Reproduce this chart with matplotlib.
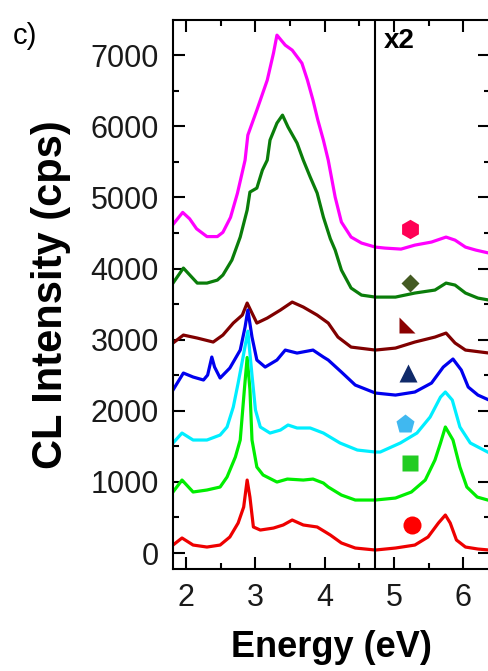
import numpy as np
import matplotlib
matplotlib.use("Agg")
import matplotlib.pyplot as plt

plt.rcParams['font.family'] = ['Liberation Sans', 'DejaVu Sans']

# energy (eV) / intensity (cps) as plotted; part right of 4.73 eV shown x2
mag_e = [1.81, 1.95, 2.05, 2.15, 2.3, 2.45, 2.53, 2.64, 2.74, 2.85, 2.89, 3.02, 3.17, 3.26, 3.31,
         3.43, 3.53, 3.67, 3.75, 3.83, 3.90, 3.98, 4.05, 4.15, 4.24, 4.38, 4.53, 4.73,
         4.87, 5.10, 5.30, 5.54, 5.75, 5.88, 6.03, 6.18, 6.37]
mag_i = [4620, 4790, 4700, 4560, 4450, 4450, 4510, 4720, 5060, 5525, 5877, 6229, 6650, 7030, 7283,
         7142, 7072, 6889, 6650, 6369, 6088, 5807, 5525, 5005, 4654, 4443, 4359, 4302,
         4288, 4274, 4330, 4373, 4443, 4400, 4302, 4260, 4218]

dg_e = [1.81, 1.96, 2.16, 2.30, 2.45, 2.53, 2.66, 2.78, 2.88, 2.92, 3.02, 3.10, 3.17, 3.21,
        3.31, 3.39, 3.47, 3.60, 3.69, 3.79, 3.89, 3.98, 4.08, 4.15, 4.24, 4.38, 4.53, 4.73,
        5.02, 5.30, 5.59, 5.75, 5.88, 6.03, 6.21, 6.37]
dg_i = [3796, 4007, 3796, 3796, 3838, 3909, 4120, 4443, 4823, 5076, 5132, 5385, 5525, 5807,
        6046, 6158, 5990, 5765, 5525, 5287, 5062, 4724, 4420, 4260, 3979, 3726, 3627, 3599,
        3599, 3656, 3698, 3796, 3768, 3656, 3585, 3557]

mr_e = [1.81, 1.96, 2.16, 2.39, 2.53, 2.68, 2.81, 2.88, 2.95, 3.02, 3.17, 3.36, 3.53, 3.69,
        3.89, 4.05, 4.19, 4.38, 4.73, 5.02, 5.30, 5.59, 5.75, 5.88, 6.03, 6.37]
mr_i = [2953, 3065, 3023, 2967, 3065, 3234, 3346, 3515, 3374, 3234, 3304, 3417, 3529, 3459,
        3346, 3234, 3037, 2896, 2854, 2882, 2967, 3037, 3093, 2953, 2854, 2812]

bl_e = [1.81, 1.96, 2.10, 2.25, 2.31, 2.37, 2.41, 2.49, 2.63, 2.78, 2.85, 2.89, 2.95, 3.02,
        3.14, 3.31, 3.43, 3.60, 3.83, 3.98, 4.05, 4.24, 4.44, 4.73, 5.02, 5.30, 5.54, 5.71,
        5.85, 5.97, 6.07, 6.21, 6.37]
bl_i = [2292, 2531, 2475, 2433, 2503, 2756, 2615, 2461, 2601, 2854, 3178, 3417, 3037, 2714,
        2615, 2714, 2854, 2812, 2854, 2756, 2714, 2545, 2362, 2250, 2221, 2264, 2390, 2615,
        2728, 2573, 2334, 2221, 2151]

cy_e = [1.81, 1.94, 2.10, 2.30, 2.49, 2.59, 2.68, 2.75, 2.82, 2.89, 2.95, 3.00, 3.07,
        3.21, 3.36, 3.47, 3.60, 3.79, 3.98, 4.22, 4.47, 4.73, 4.80, 5.09, 5.33, 5.52, 5.67,
        5.74, 5.84, 5.95, 6.10, 6.37]
cy_i = [1547, 1687, 1589, 1589, 1659, 1772, 2053, 2390, 2750, 3120, 2500, 2011, 1772,
        1687, 1729, 1800, 1758, 1758, 1687, 1547, 1448, 1420, 1420, 1547, 1687, 1912, 2193,
        2264, 2151, 1772, 1547, 1410]

gr_e = [1.81, 1.94, 2.10, 2.30, 2.49, 2.59, 2.71, 2.78, 2.84, 2.88, 2.92, 2.95, 3.02, 3.11,
        3.31, 3.46, 3.69, 3.83, 3.98, 4.05, 4.24, 4.44, 4.73, 5.02, 5.25, 5.45, 5.59, 5.67,
        5.74, 5.85, 5.95, 6.05, 6.20, 6.37]
gr_i = [858, 1026, 858, 886, 928, 1069, 1350, 1589, 2300, 2750, 2300, 1589, 1209, 1097,
        998, 1040, 1026, 1040, 984, 928, 815, 745, 745, 773, 858, 1026, 1308, 1547,
        1772, 1589, 1209, 928, 787, 740]

rd_e = [1.81, 1.94, 2.10, 2.30, 2.49, 2.63, 2.75, 2.83, 2.88, 2.92, 2.97, 3.07, 3.26, 3.40,
        3.53, 3.69, 3.89, 4.01, 4.08, 4.24, 4.44, 4.73, 5.02, 5.30, 5.49, 5.64, 5.74, 5.81,
        5.90, 6.03, 6.21, 6.37]
rd_i = [112, 211, 112, 84, 112, 225, 422, 647, 1026, 787, 366, 323, 351, 394,
        464, 394, 366, 295, 253, 141, 70, 42, 70, 112, 225, 422, 534, 422,
        183, 84, 56, 42]

curves = [(mag_e, mag_i, '#ff00ff'), (dg_e, dg_i, '#0a7d0a'), (mr_e, mr_i, '#800000'),
          (bl_e, bl_i, '#0000ee'), (gr_e, gr_i, '#00ee00'), (cy_e, cy_i, '#00eeff'),
          (rd_e, rd_i, '#ee0000')]

# symbol labels next to each curve
sym_e = [5.23, 5.23, 5.18, 5.20, 5.16, 5.23, 5.26]
sym_i = [4555, 3796, 3206, 2531, 1814, 1265, 394]
rtri = [(-1, 1), (-1, -1), (1, -1)]
sym_m = ['h', 'D', rtri, '^', 'p', 's', 'o']
sym_c = ['#ff0055', '#445a22', '#8b0000', '#102a6a', '#40b8f0', '#22cc22', '#ff0000']
sym_s = [14, 9, 12, 13, 14, 12, 13]

fig = plt.figure(figsize=(4.88, 6.71), dpi=100)
ax = fig.add_axes([0.3545, 0.152, 0.65, 0.818])

for e, i, c in curves:
    ax.plot(e, i, color=c, lw=2.3)

for x, y, m, c, s in zip(sym_e, sym_i, sym_m, sym_c, sym_s):
    ax.plot(x, y, marker=m, color=c, ms=s, mec='none', ls='none')

ax.axvline(4.73, color='black', lw=1.5)
ax.text(4.85, 7100, 'x2', fontsize=20, fontweight='bold')

ax.set_xlim(1.81, 6.387)
ax.set_ylim(-225, 7494)
ax.set_xticks([2, 3, 4, 5, 6])
ax.set_xticks(np.arange(2.5, 6.5, 1.0), minor=True)
ax.set_yticks(np.arange(0, 7001, 1000))
ax.set_yticks(np.arange(500, 7001, 1000), minor=True)
ax.tick_params(which='both', direction='in', top=True, right=True, width=1.5,
               labelsize=22, labelcolor='#1a1a1a')
ax.tick_params(axis='y', which='both', pad=10)
ax.tick_params(axis='x', which='both', pad=10)
ax.tick_params(which='major', length=8.5)
ax.tick_params(which='minor', length=4.5)
for sp in ax.spines.values():
    sp.set_linewidth(1.5)

ax.set_xlabel('Energy (eV)', fontsize=26, fontweight='bold', labelpad=12)
ax.set_ylabel('CL Intensity (cps)', fontsize=30, fontweight='bold', labelpad=14)
fig.text(0.027, 0.935, 'c)', fontsize=21)

fig.savefig('out.png', dpi=100)
